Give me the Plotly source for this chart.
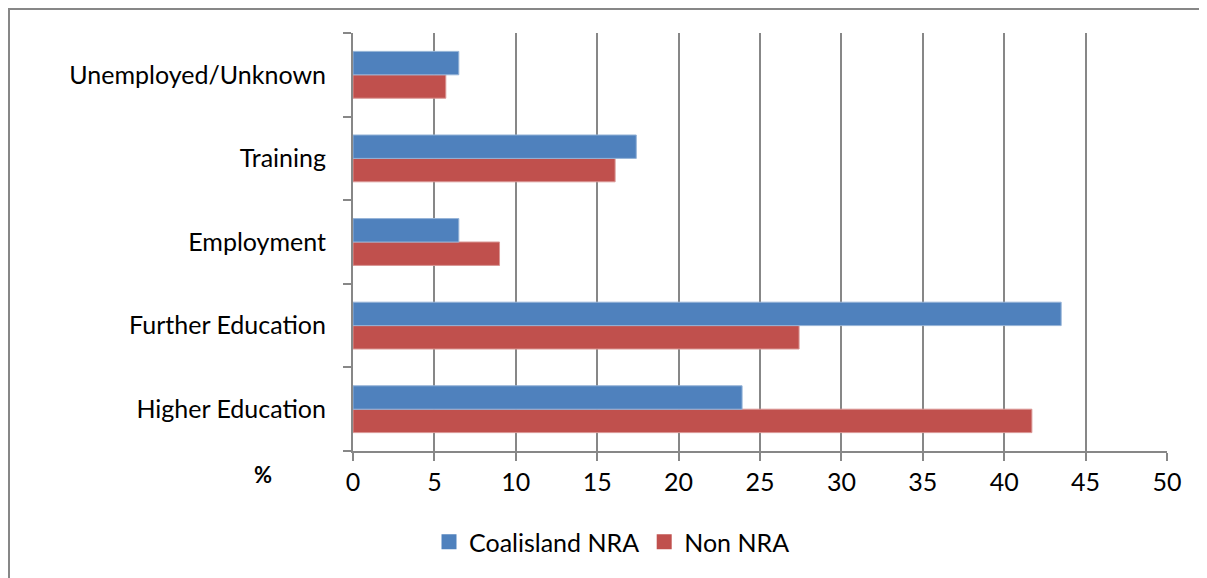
import plotly.graph_objects as go

categories = ["Higher Education", "Further Education", "Employment", "Training", "Unemployed/Unknown"]
coalisland_nra = [23.9, 43.5, 6.5, 17.4, 6.5]
non_nra = [41.7, 27.4, 9.0, 16.1, 5.7]
x_ticks = [0, 5, 10, 15, 20, 25, 30, 35, 40, 45, 50]

# page has an 8px body margin; figure coords = page coords - 8
W, H = 1199, 570
L, R, T, B = 345, 40, 25, 127
pw, ph = W - L - R, H - T - B

BLUE, RED = "#4F81BD", "#C0504D"

fig = go.Figure()
fig.add_trace(go.Bar(y=categories, x=non_nra, name="Non NRA", orientation="h", showlegend=False,
                     marker=dict(color=RED, line=dict(color="#D99694", width=1))))
fig.add_trace(go.Bar(y=categories, x=coalisland_nra, name="Coalisland NRA", orientation="h",
                     showlegend=False,
                     marker=dict(color=BLUE, line=dict(color="#95B3D7", width=1))))
# legend entries with larger square swatches
fig.add_trace(go.Scatter(x=[None], y=[None], mode="markers", name="Coalisland NRA",
                         marker=dict(symbol="square", size=15, color=BLUE)))
fig.add_trace(go.Scatter(x=[None], y=[None], mode="markers", name="Non NRA",
                         marker=dict(symbol="square", size=15, color=RED)))

font = "Lato, Carlito, Calibri, sans-serif"
fig.update_layout(
    width=W, height=H,
    margin=dict(l=L, r=R, t=T, b=B, pad=0),
    paper_bgcolor="white", plot_bgcolor="white",
    barmode="group", bargap=0.44, bargroupgap=0,
    font=dict(family=font, size=25, color="black"),
    showlegend=True,
    legend=dict(orientation="h", traceorder="normal", x=(604 - L) / pw, xanchor="center",
                y=(H - B - 534) / ph, yanchor="middle", font=dict(size=25, family=font),
                itemwidth=30, itemsizing="trace"),
    xaxis=dict(range=[0, 50], tickvals=x_ticks, showgrid=True, gridcolor="#878787", gridwidth=2,
               zeroline=False, showline=True, linecolor="#878787", linewidth=2,
               ticks="outside", ticklen=8, tickcolor="#878787", tickwidth=2,
               tickfont=dict(size=25, family=font), fixedrange=True),
    yaxis=dict(categoryorder="array", categoryarray=categories, showgrid=False,
               showline=True, linecolor="#878787", linewidth=2,
               ticks="outside", tickson="boundaries", ticklen=8, tickcolor="#878787", tickwidth=2,
               ticklabelstandoff=20, tickfont=dict(size=25, family=font), fixedrange=True),
)

fig.add_annotation(text="<b>%</b>", xref="paper", yref="paper",
                   x=(255 - L) / pw, y=(H - B - 466) / ph, showarrow=False,
                   font=dict(size=22, family=font), xanchor="center", yanchor="middle")

fig.add_shape(type="rect", xref="paper", yref="paper",
              x0=(1 - L) / pw, x1=(W + 20 - L) / pw,
              y0=(H - B - H - 20) / ph, y1=(H - B - 1) / ph,
              line=dict(color="#878787", width=2), fillcolor="rgba(0,0,0,0)", layer="below")

fig.write_html("out.html")
